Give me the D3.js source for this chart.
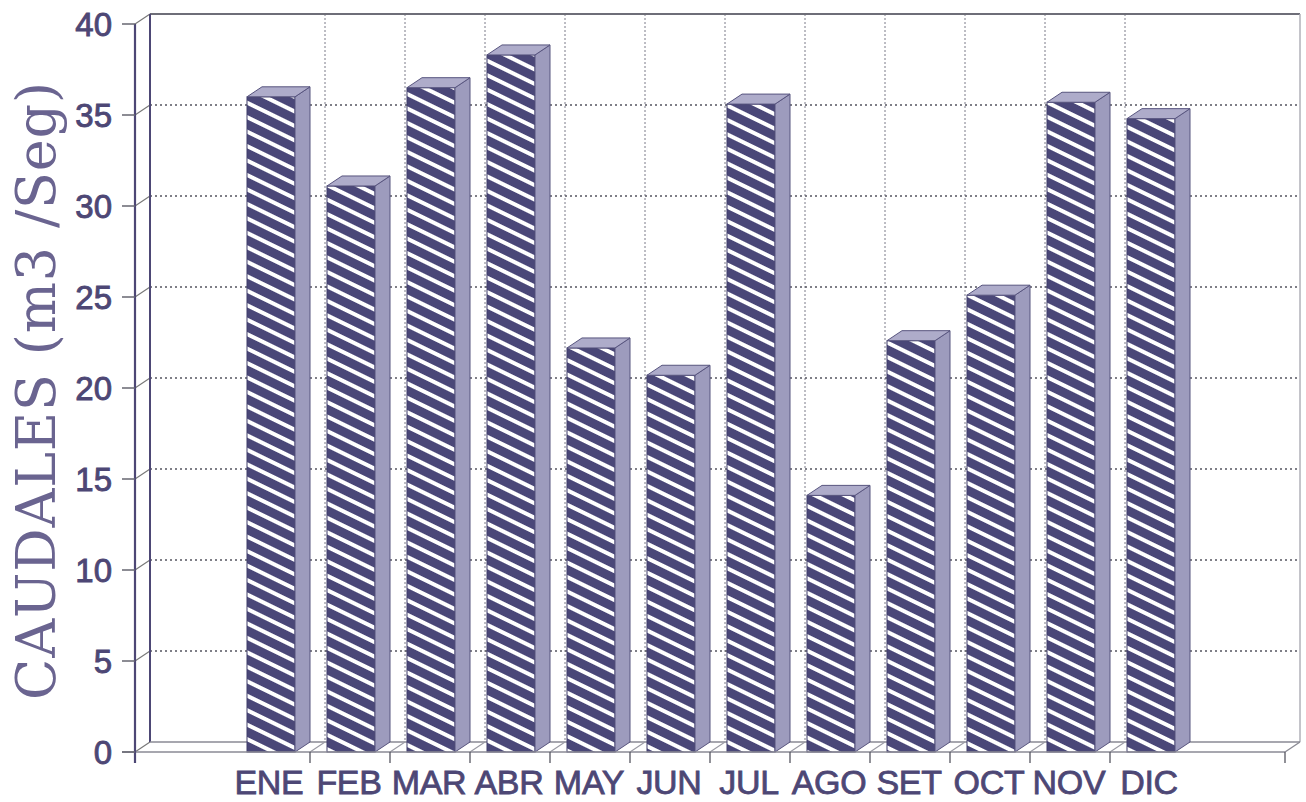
<!DOCTYPE html>
<html>
<head>
<meta charset="utf-8">
<script src="https://cdn.jsdelivr.net/npm/d3@7"></script>
<style>
  body { margin: 0; background: #fff; }
  svg { display: block; }
</style>
</head>
<body>
<svg width="1306" height="802"></svg>
<script>
const months = ['ENE', 'FEB', 'MAR', 'ABR', 'MAY', 'JUN', 'JUL', 'AGO', 'SET', 'OCT', 'NOV', 'DIC'];
const caudales = [36.0, 31.1, 36.5, 38.3, 22.2, 20.7, 35.6, 14.1, 22.6, 25.1, 35.7, 34.8];
const yTicks = [0, 5, 10, 15, 20, 25, 30, 35, 40];
const yTitle = 'CAUDALES (m3 /Seg)';

const plotLeft = 135, plotRight = 1285, plotTop = 24, plotBottom = 752;
const dx = 15, dy = -10;          // depth of the 3d box
const ink = '#4d4775';

const svg = d3.select('svg');

const defs = svg.append('defs');
const hatch = defs.append('pattern')
    .attr('id', 'hatch')
    .attr('patternUnits', 'userSpaceOnUse')
    .attr('width', 13)
    .attr('height', 13)
    .attr('patternTransform', 'rotate(26)');
hatch.append('rect').attr('width', 13).attr('height', 13).attr('fill', '#4a4778');
hatch.append('rect').attr('y', 8).attr('width', 13).attr('height', 4).attr('fill', '#ffffff');

// ----------------------------------------------------------
//                      scales
// ----------------------------------------------------------

const yScale = d3.scaleLinear()
    .domain([0, 40])
    .range([plotBottom, plotTop]);

const xScale = d3.scaleBand()
    .domain(months)
    .range([plotLeft, plotRight])
    .paddingInner(0)
    .paddingOuter(1.1875);

const step = xScale.step();
const bounds = months.slice(1).map((m) => xScale(m));

// ----------------------------------------------------------
//                      walls + grid
// ----------------------------------------------------------

const walls = svg.append('g');

// back wall verticals
walls.selectAll('.vgrid')
    .data(bounds)
    .enter().append('line')
    .attr('x1', (d) => d + dx).attr('x2', (d) => d + dx)
    .attr('y1', plotTop + dy).attr('y2', plotBottom + dy)
    .attr('stroke', '#7a7a88')
    .attr('stroke-width', 1)
    .attr('stroke-dasharray', '2,2');

// horizontal grid on back wall and left wall
yTicks.slice(1, -1).forEach((t) => {
    walls.append('line')
        .attr('x1', plotLeft + dx).attr('x2', plotRight + dx)
        .attr('y1', yScale(t) + dy).attr('y2', yScale(t) + dy)
        .attr('stroke', '#555560')
        .attr('stroke-width', 1.3)
        .attr('stroke-dasharray', '2,3');
});
yTicks.forEach((t) => {
    walls.append('line')
        .attr('x1', plotLeft).attr('x2', plotLeft + dx)
        .attr('y1', yScale(t)).attr('y2', yScale(t) + dy)
        .attr('stroke', '#777')
        .attr('stroke-width', 1.2);
});

// box edges
walls.append('line')
    .attr('x1', plotLeft + dx).attr('x2', plotRight + dx)
    .attr('y1', plotTop + dy).attr('y2', plotTop + dy)
    .attr('stroke', '#6e6e78').attr('stroke-width', 2);
walls.append('line')
    .attr('x1', plotRight + dx).attr('x2', plotRight + dx)
    .attr('y1', plotTop + dy).attr('y2', plotBottom + dy)
    .attr('stroke', '#b0b0b8').attr('stroke-width', 1.5);
walls.append('line')
    .attr('x1', plotLeft + dx).attr('x2', plotLeft + dx)
    .attr('y1', plotTop + dy).attr('y2', plotBottom + dy)
    .attr('stroke', ink).attr('stroke-width', 2);
walls.append('line')
    .attr('x1', plotLeft + dx).attr('x2', plotRight + dx)
    .attr('y1', plotBottom + dy).attr('y2', plotBottom + dy)
    .attr('stroke', '#8a8a94').attr('stroke-width', 1.3);
walls.append('line')
    .attr('x1', plotRight).attr('x2', plotRight + dx)
    .attr('y1', plotBottom).attr('y2', plotBottom + dy)
    .attr('stroke', '#8a8a94').attr('stroke-width', 1.3);

// floor diagonals at category boundaries
walls.selectAll('.fgrid')
    .data(bounds)
    .enter().append('line')
    .attr('x1', (d) => d).attr('x2', (d) => d + dx)
    .attr('y1', plotBottom).attr('y2', plotBottom + dy)
    .attr('stroke', '#9a9aa4')
    .attr('stroke-width', 1.2);

// ----------------------------------------------------------
//                      now the bars...
// ----------------------------------------------------------

const barW = 48, barOff = 17;
const bars = svg.append('g')
    .selectAll('g')
    .data(months.map((m, i) => ({ m: m, v: caudales[i] })))
    .enter().append('g');

bars.append('rect')
    .attr('x', (d) => xScale(d.m) + barOff)
    .attr('y', (d) => yScale(d.v))
    .attr('width', barW)
    .attr('height', (d) => plotBottom - yScale(d.v))
    .attr('fill', 'url(#hatch)')
    .attr('stroke', '#3f3c6a')
    .attr('stroke-width', 1);

bars.append('polygon')
    .attr('points', (d) => {
        const x0 = xScale(d.m) + barOff + barW, y0 = yScale(d.v);
        return [[x0, y0], [x0 + dx, y0 + dy], [x0 + dx, plotBottom + dy], [x0, plotBottom]].join(' ');
    })
    .attr('fill', '#9d9bbd')
    .attr('stroke', '#57547e')
    .attr('stroke-width', 1);

bars.append('polygon')
    .attr('points', (d) => {
        const x0 = xScale(d.m) + barOff, y0 = yScale(d.v);
        return [[x0, y0], [x0 + dx, y0 + dy], [x0 + barW + dx, y0 + dy], [x0 + barW, y0]].join(' ');
    })
    .attr('fill', '#aeacca')
    .attr('stroke', '#57547e')
    .attr('stroke-width', 1);

// ----------------------------------------------------------
//                      front axes
// ----------------------------------------------------------

const axes = svg.append('g');

axes.append('line')
    .attr('x1', plotLeft - 13).attr('x2', plotRight)
    .attr('y1', plotBottom).attr('y2', plotBottom)
    .attr('stroke', '#8a8a94').attr('stroke-width', 1.5);

axes.selectAll('.xtick')
    .data(bounds.concat([plotRight]))
    .enter().append('line')
    .attr('x1', (d) => d).attr('x2', (d) => d)
    .attr('y1', plotBottom).attr('y2', plotBottom + 11)
    .attr('stroke', '#555560')
    .attr('stroke-width', 1.3);

axes.append('line')
    .attr('x1', plotLeft).attr('x2', plotLeft)
    .attr('y1', plotTop).attr('y2', plotBottom + 11)
    .attr('stroke', ink).attr('stroke-width', 2.2);

axes.selectAll('.ytick')
    .data(yTicks)
    .enter().append('line')
    .attr('x1', plotLeft - 13).attr('x2', plotLeft)
    .attr('y1', (d) => yScale(d)).attr('y2', (d) => yScale(d))
    .attr('stroke', '#666670')
    .attr('stroke-width', 1.5);

axes.selectAll('.ylab')
    .data(yTicks)
    .enter().append('text')
    .attr('x', 112)
    .attr('y', (d) => yScale(d) + 12)
    .attr('text-anchor', 'end')
    .attr('font-family', '"Liberation Sans", Arial, sans-serif')
    .attr('font-size', 33)
    .attr('fill', ink)
    .attr('stroke', ink)
    .attr('stroke-width', 0.9)
    .text((d) => d);

axes.selectAll('.xlab')
    .data(months)
    .enter().append('text')
    .attr('x', (d) => xScale(d) + step / 2 - 1)
    .attr('y', 794)
    .attr('text-anchor', 'middle')
    .attr('font-family', '"Liberation Sans", Arial, sans-serif')
    .attr('font-size', 34)
    .attr('letter-spacing', -0.3)
    .attr('fill', ink)
    .attr('stroke', ink)
    .attr('stroke-width', 0.8)
    .text((d) => d);

svg.append('text')
    .attr('transform', 'translate(55, 391) rotate(-90)')
    .attr('text-anchor', 'middle')
    .attr('font-family', '"DejaVu Serif", serif')
    .attr('font-size', 54)
    .attr('textLength', 618)
    .attr('lengthAdjust', 'spacing')
    .attr('fill', '#6a6490')
    .text(yTitle);
</script>
</body>
</html>
